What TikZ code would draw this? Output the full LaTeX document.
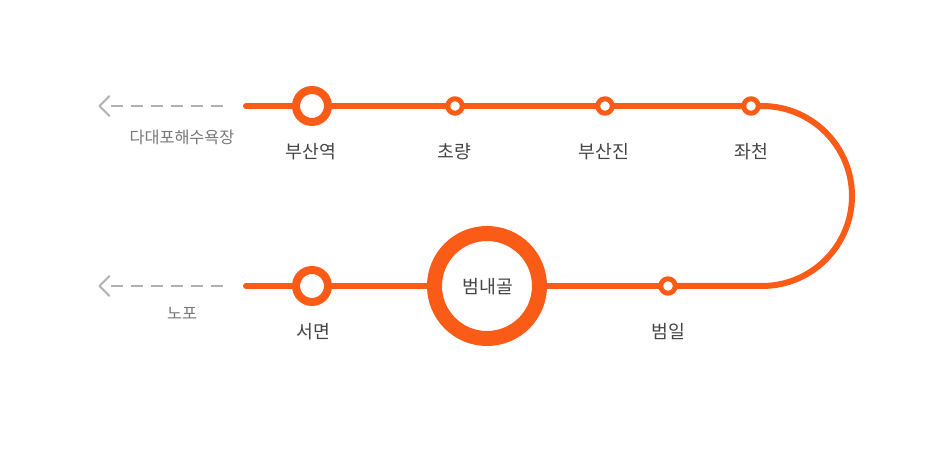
\documentclass[tikz,border=0pt]{standalone}
\usepackage{fontspec}
\setmainfont{Noto Sans CJK KR}[Scale=1.0]
\usepackage{xcolor}
\definecolor{lineorange}{rgb}{0.98,0.36,0.09}
\definecolor{fadegray}{rgb}{0.69,0.69,0.69}
\definecolor{labeltext}{rgb}{0.27,0.27,0.27}
\definecolor{sidetext}{rgb}{0.47,0.47,0.47}
\tikzset{
  smallstop/.style={circle,draw=lineorange,fill=white,line width=5pt,inner sep=0pt,minimum size=14.5pt},
  midstop/.style={circle,draw=lineorange,fill=white,line width=8pt,inner sep=0pt,minimum size=32pt},
  mainstop/.style={circle,draw=lineorange,fill=white,line width=15pt,inner sep=0pt,minimum size=105pt,text=labeltext,font=\fontsize{18.3}{20}\selectfont},
  stoplabel/.style={text=labeltext,font=\fontsize{18.3}{20}\selectfont,inner sep=0pt},
  sidelabel/.style={text=sidetext,font=\fontsize{16.3}{18}\selectfont,inner sep=0pt},
  routeline/.style={draw=lineorange,line width=6pt,line cap=round},
  fadeline/.style={draw=fadegray,line width=2pt,dash pattern=on 12pt off 8pt},
  fadehead/.style={draw=fadegray,line width=2pt}
}
\begin{document}
\begin{tikzpicture}[line cap=round,line join=round,x=1pt,y=1pt]
\useasboundingbox (0,0) rectangle (940,450);
\node [midstop] (busan) at (312,344) {};
\node [smallstop] (choryang) at (455,344) {};
\node [smallstop] (busanjin) at (605,344) {};
\node [smallstop] (jwacheon) at (751,344) {};
\node [midstop] (seomyeon) at (312,164) {};
\node [mainstop,text depth=0pt,xshift=0pt] (beomnaegol) at (487,164) {\hspace{1.5pt}범내골};
\node [smallstop] (beomil) at (668,164) {};
\coordinate (topstart) at (246,344);
\coordinate (lowstart) at (246,164);
\coordinate (curvetop) at (762,344);
\coordinate (topfadestart) at (223,344);
\coordinate (topfadeend) at (111,344);
\coordinate (lowfadestart) at (223,164);
\coordinate (lowfadeend) at (111,164);
\draw [routeline] (topstart) -- (busan);
\draw [routeline] (busan) -- (choryang);
\draw [routeline] (choryang) -- (busanjin);
\draw [routeline] (busanjin) -- (jwacheon);
\draw [routeline] (jwacheon) -- (curvetop) arc [start angle=90,end angle=-90,radius=90pt] -- (beomil);
\draw [routeline] (beomil) -- (beomnaegol);
\draw [routeline] (beomnaegol) -- (seomyeon);
\draw [routeline] (seomyeon) -- (lowstart);
\draw [fadeline,line cap=butt] (topfadeend) -- (topfadestart);
\draw [fadeline,line cap=butt] (lowfadeend) -- (lowfadestart);
\draw [fadehead] (109.5,354) -- (99.5,344) -- (109.5,334);
\draw [fadehead] (109.5,174) -- (99.5,164) -- (109.5,154);
\node [stoplabel] (busanlabel) at (311,298.3) {부산역};
\node [stoplabel] (choryanglabel) at (454.5,298.3) {초량};
\node [stoplabel] (busanjinlabel) at (604,298.3) {부산진};
\node [stoplabel] (jwacheonlabel) at (751.5,298.3) {좌천};
\node [stoplabel] (seomyeonlabel) at (313.5,118.3) {서면};
\node [stoplabel] (beomillabel) at (668.5,118.3) {범일};
\node [sidelabel] (dadaelabel) at (182,312.5) {다대포해수욕장};
\node [sidelabel] (nopolabel) at (182,136.5) {노포};
\end{tikzpicture}
\end{document}
